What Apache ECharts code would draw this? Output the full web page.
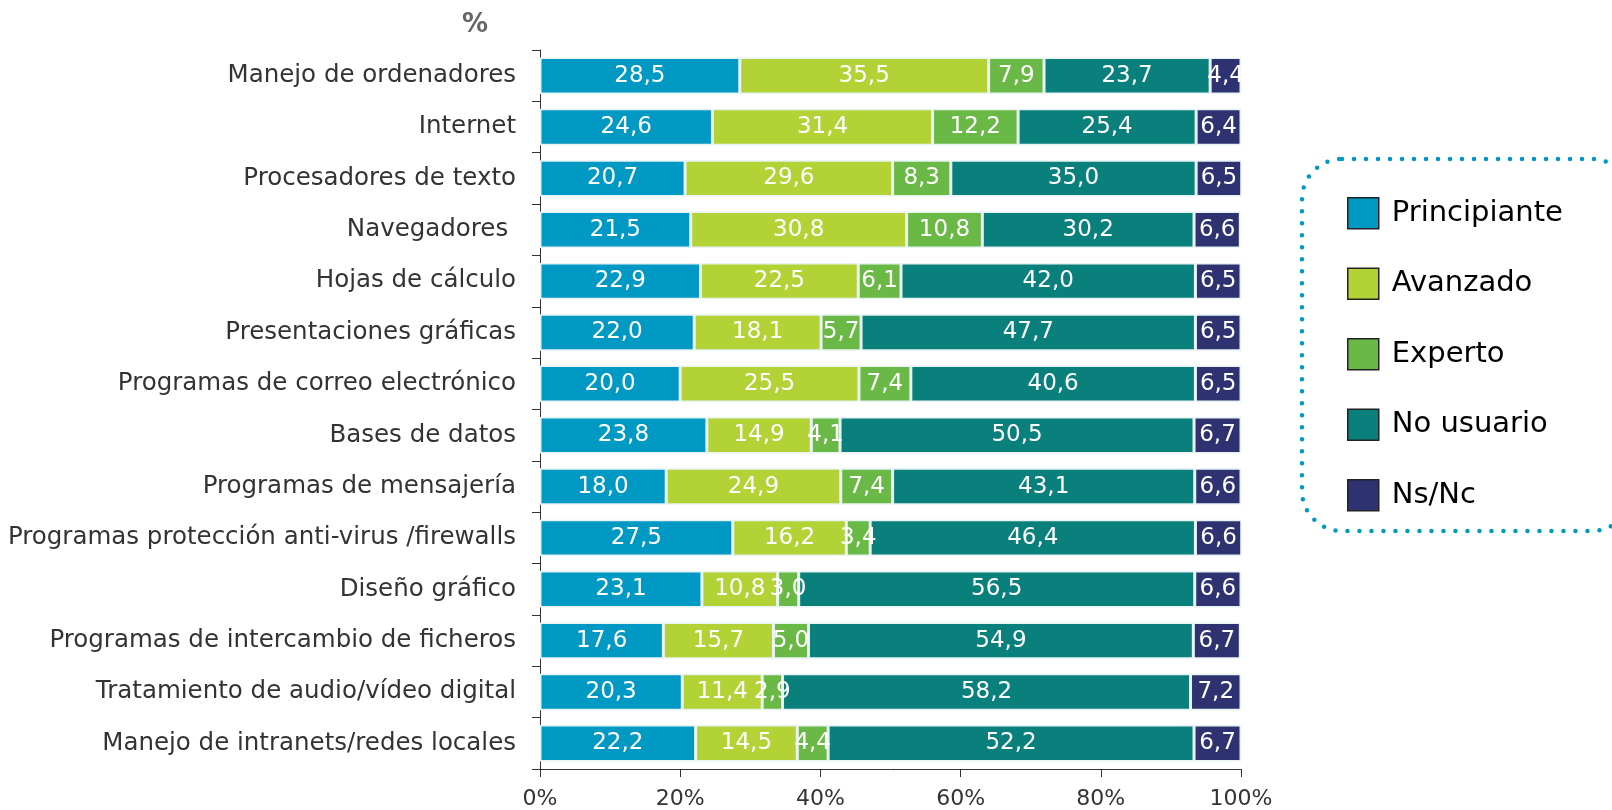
<!DOCTYPE html>
<html>
<head>
<meta charset="utf-8">
<script src="https://cdn.jsdelivr.net/npm/echarts@6/dist/echarts.min.js"></script>
<style>
  html, body { margin: 0; padding: 0; background: #fff; }
  #chart { width: 1612px; height: 810px; }
</style>
</head>
<body>
<div id="chart"></div>
<script>
// categorias (de arriba a abajo)
var categories = [
  "Manejo de ordenadores",
  "Internet",
  "Procesadores de texto",
  "Navegadores ",
  "Hojas de cálculo",
  "Presentaciones gráficas",
  "Programas de correo electrónico",
  "Bases de datos",
  "Programas de mensajería",
  "Programas protección anti-virus /firewalls",
  "Diseño gráfico",
  "Programas de intercambio de ficheros",
  "Tratamiento de audio/vídeo digital",
  "Manejo de intranets/redes locales"
];
var seriesNames = ["Principiante", "Avanzado", "Experto", "No usuario", "Ns/Nc"];
var principiante = [28.5, 24.6, 20.7, 21.5, 22.9, 22.0, 20.0, 23.8, 18.0, 27.5, 23.1, 17.6, 20.3, 22.2];
var avanzado     = [35.5, 31.4, 29.6, 30.8, 22.5, 18.1, 25.5, 14.9, 24.9, 16.2, 10.8, 15.7, 11.4, 14.5];
var experto      = [7.9, 12.2, 8.3, 10.8, 6.1, 5.7, 7.4, 4.1, 7.4, 3.4, 3.0, 5.0, 2.9, 4.4];
var noUsuario    = [23.7, 25.4, 35.0, 30.2, 42.0, 47.7, 40.6, 50.5, 43.1, 46.4, 56.5, 54.9, 58.2, 52.2];
var nsnc         = [4.4, 6.4, 6.5, 6.6, 6.5, 6.5, 6.5, 6.7, 6.6, 6.6, 6.6, 6.7, 7.2, 6.7];
var xTicks = [0, 20, 40, 60, 80, 100];

var colores = ["#0099c4", "#b3d235", "#6ab845", "#0a807d", "#2e3270"];
var valores = [principiante, avanzado, experto, noUsuario, nsnc];

var font = "DejaVu Sans";
var chart = echarts.init(document.getElementById("chart"));

var series = seriesNames.map(function (name, i) {
  return {
    name: name,
    type: "bar",
    stack: "total",
    barWidth: "71%",
    data: valores[i],
    itemStyle: { color: colores[i], borderColor: "#e8f4f4", borderWidth: 1.5 },
    label: {
      show: true,
      position: "inside",
      color: "#fff",
      fontFamily: font,
      fontSize: 23,
      formatter: function (p) { return p.value.toFixed(1).replace(".", ","); }
    },
    emphasis: { disabled: true }
  };
});

chart.setOption({
  animation: false,
  textStyle: { fontFamily: font },
  grid: { left: 540, right: 371, top: 50, bottom: 38 },
  title: {
    text: "%",
    left: 457,
    top: 7,
    textStyle: { fontFamily: font, fontSize: 26, fontWeight: "bold", color: "#666" }
  },
  legend: {
    orient: "vertical",
    left: 1342,
    top: 192,
    itemWidth: 31,
    itemHeight: 31,
    itemGap: 38,
    icon: "rect",
    itemStyle: { borderColor: "#222", borderWidth: 1.5 },
    textStyle: { fontFamily: font, fontSize: 29, color: "#000", padding: [0, 0, 0, 8] },
    data: seriesNames
  },
  graphic: [{
    type: "rect",
    shape: { x: 1302, y: 159, width: 330, height: 372, r: 40 },
    style: { fill: "none", stroke: "#0099c4", lineWidth: 4.5, lineDash: [0, 12], lineCap: "round" }
  }],
  xAxis: {
    type: "value",
    min: xTicks[0],
    max: xTicks[xTicks.length - 1],
    interval: 20,
    axisLine: { show: true, lineStyle: { color: "#333" } },
    axisTick: { show: true, length: 8, lineStyle: { color: "#333" } },
    splitLine: { show: false },
    axisLabel: {
      fontFamily: font, fontSize: 22, color: "#333", margin: 19,
      formatter: function (v) { return v + "%"; }
    }
  },
  yAxis: {
    type: "category",
    inverse: true,
    data: categories,
    axisLine: { show: true, lineStyle: { color: "#333" } },
    axisTick: { show: true, length: 8, lineStyle: { color: "#333" } },
    axisLabel: { fontFamily: font, fontSize: 24.5, color: "#333", margin: 24 }
  },
  series: series
});
</script>
</body>
</html>
